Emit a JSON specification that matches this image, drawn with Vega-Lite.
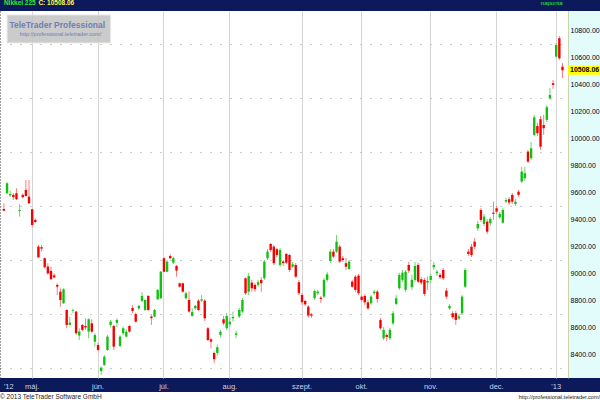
{
"$schema": "https://vega.github.io/schema/vega-lite/v6.json",
"padding": 0,
"background": "#0c1a5c",
"spacing": 2,
"config": {"view": {"stroke": null}, "font": "Liberation Sans", "axis": {"labelOverlap": false}, "axisY": {"labelOverlap": false}, "axisX": {"labelOverlap": false}},
"datasets": {"ohlc": [
{"date":"2012-04-17","open":9479,"high":9521,"low":9462,"close":9466},
{"date":"2012-04-18","open":9595,"high":9677,"low":9590,"close":9669},
{"date":"2012-04-19","open":9580,"high":9615,"low":9568,"close":9590},
{"date":"2012-04-20","open":9583,"high":9595,"low":9545,"close":9566},
{"date":"2012-04-23","open":9595,"high":9632,"low":9545,"close":9551},
{"date":"2012-04-24","open":9464,"high":9514,"low":9422,"close":9471},
{"date":"2012-04-25","open":9583,"high":9595,"low":9558,"close":9566},
{"date":"2012-04-26","open":9620,"high":9694,"low":9570,"close":9575},
{"date":"2012-04-27","open":9570,"high":9694,"low":9516,"close":9521},
{"date":"2012-05-01","open":9477,"high":9480,"low":9343,"close":9360},
{"date":"2012-05-02","open":9397,"high":9410,"low":9373,"close":9382},
{"date":"2012-05-07","open":9199,"high":9212,"low":9113,"close":9120},
{"date":"2012-05-08","open":9195,"high":9212,"low":9162,"close":9184},
{"date":"2012-05-09","open":9113,"high":9120,"low":9038,"close":9046},
{"date":"2012-05-10","open":9051,"high":9076,"low":8989,"close":9001},
{"date":"2012-05-11","open":9019,"high":9051,"low":8952,"close":8957},
{"date":"2012-05-14","open":8986,"high":9001,"low":8964,"close":8971},
{"date":"2012-05-15","open":8915,"high":8927,"low":8840,"close":8902},
{"date":"2012-05-16","open":8865,"high":8890,"low":8754,"close":8803},
{"date":"2012-05-17","open":8779,"high":8890,"low":8774,"close":8883},
{"date":"2012-05-18","open":8729,"high":8734,"low":8593,"close":8618},
{"date":"2012-05-21","open":8618,"high":8680,"low":8615,"close":8635},
{"date":"2012-05-22","open":8724,"high":8739,"low":8705,"close":8729},
{"date":"2012-05-23","open":8717,"high":8722,"low":8544,"close":8556},
{"date":"2012-05-24","open":8539,"high":8593,"low":8506,"close":8569},
{"date":"2012-05-25","open":8618,"high":8625,"low":8569,"close":8581},
{"date":"2012-05-28","open":8610,"high":8667,"low":8581,"close":8600},
{"date":"2012-05-29","open":8569,"high":8667,"low":8519,"close":8660},
{"date":"2012-05-30","open":8630,"high":8660,"low":8556,"close":8568},
{"date":"2012-05-31","open":8494,"high":8556,"low":8457,"close":8543},
{"date":"2012-06-01","open":8469,"high":8486,"low":8420,"close":8432},
{"date":"2012-06-04","open":8276,"high":8308,"low":8247,"close":8301},
{"date":"2012-06-05","open":8321,"high":8395,"low":8313,"close":8382},
{"date":"2012-06-06","open":8432,"high":8543,"low":8425,"close":8531},
{"date":"2012-06-07","open":8618,"high":8655,"low":8601,"close":8642},
{"date":"2012-06-08","open":8610,"high":8618,"low":8432,"close":8457},
{"date":"2012-06-11","open":8633,"high":8667,"low":8601,"close":8655},
{"date":"2012-06-12","open":8462,"high":8543,"low":8454,"close":8531},
{"date":"2012-06-13","open":8556,"high":8605,"low":8543,"close":8593},
{"date":"2012-06-14","open":8531,"high":8586,"low":8526,"close":8568},
{"date":"2012-06-15","open":8610,"high":8618,"low":8561,"close":8568},
{"date":"2012-06-18","open":8744,"high":8766,"low":8707,"close":8722},
{"date":"2012-06-19","open":8699,"high":8709,"low":8635,"close":8642},
{"date":"2012-06-20","open":8741,"high":8766,"low":8729,"close":8759},
{"date":"2012-06-21","open":8796,"high":8861,"low":8788,"close":8833},
{"date":"2012-06-22","open":8729,"high":8808,"low":8721,"close":8803},
{"date":"2012-06-25","open":8833,"high":8840,"low":8721,"close":8729},
{"date":"2012-06-26","open":8680,"high":8692,"low":8618,"close":8668},
{"date":"2012-06-27","open":8680,"high":8736,"low":8675,"close":8729},
{"date":"2012-06-28","open":8808,"high":8883,"low":8803,"close":8878},
{"date":"2012-06-29","open":8816,"high":9018,"low":8811,"close":9013},
{"date":"2012-07-02","open":9113,"high":9120,"low":9009,"close":9013},
{"date":"2012-07-03","open":9013,"high":9100,"low":9009,"close":9087},
{"date":"2012-07-04","open":9130,"high":9142,"low":9107,"close":9113},
{"date":"2012-07-05","open":9080,"high":9125,"low":9070,"close":9113},
{"date":"2012-07-06","open":9056,"high":9063,"low":8976,"close":9021},
{"date":"2012-07-09","open":8927,"high":8932,"low":8895,"close":8902},
{"date":"2012-07-10","open":8927,"high":8932,"low":8858,"close":8865},
{"date":"2012-07-11","open":8816,"high":8865,"low":8808,"close":8853},
{"date":"2012-07-12","open":8803,"high":8865,"low":8709,"close":8717},
{"date":"2012-07-13","open":8685,"high":8741,"low":8680,"close":8714},
{"date":"2012-07-17","open":8741,"high":8766,"low":8729,"close":8759},
{"date":"2012-07-18","open":8798,"high":8810,"low":8721,"close":8729},
{"date":"2012-07-19","open":8798,"high":8840,"low":8788,"close":8808},
{"date":"2012-07-20","open":8798,"high":8810,"low":8647,"close":8667},
{"date":"2012-07-23","open":8593,"high":8603,"low":8498,"close":8506},
{"date":"2012-07-24","open":8511,"high":8521,"low":8445,"close":8494},
{"date":"2012-07-25","open":8410,"high":8422,"low":8333,"close":8363},
{"date":"2012-07-26","open":8410,"high":8472,"low":8390,"close":8452},
{"date":"2012-07-27","open":8544,"high":8581,"low":8529,"close":8568},
{"date":"2012-07-30","open":8660,"high":8685,"low":8615,"close":8630},
{"date":"2012-07-31","open":8593,"high":8707,"low":8581,"close":8685},
{"date":"2012-08-01","open":8623,"high":8670,"low":8603,"close":8642},
{"date":"2012-08-02","open":8667,"high":8717,"low":8642,"close":8677},
{"date":"2012-08-03","open":8544,"high":8573,"low":8521,"close":8556},
{"date":"2012-08-06","open":8680,"high":8744,"low":8670,"close":8729},
{"date":"2012-08-07","open":8717,"high":8818,"low":8707,"close":8803},
{"date":"2012-08-08","open":8964,"high":8971,"low":8840,"close":8853},
{"date":"2012-08-09","open":8865,"high":9004,"low":8840,"close":8981},
{"date":"2012-08-10","open":8932,"high":8952,"low":8863,"close":8890},
{"date":"2012-08-13","open":8915,"high":8930,"low":8863,"close":8883},
{"date":"2012-08-14","open":8915,"high":8952,"low":8900,"close":8935},
{"date":"2012-08-15","open":8952,"high":8974,"low":8863,"close":8927},
{"date":"2012-08-16","open":8964,"high":9100,"low":8952,"close":9088},
{"date":"2012-08-17","open":9113,"high":9182,"low":9100,"close":9162},
{"date":"2012-08-20","open":9219,"high":9226,"low":9160,"close":9174},
{"date":"2012-08-21","open":9199,"high":9212,"low":9063,"close":9076},
{"date":"2012-08-22","open":9180,"high":9189,"low":9122,"close":9137},
{"date":"2012-08-23","open":9063,"high":9189,"low":9048,"close":9174},
{"date":"2012-08-24","open":9088,"high":9100,"low":9056,"close":9076},
{"date":"2012-08-27","open":9145,"high":9152,"low":9070,"close":9080},
{"date":"2012-08-28","open":9137,"high":9145,"low":9011,"close":9026},
{"date":"2012-08-29","open":9050,"high":9085,"low":9041,"close":9068},
{"date":"2012-08-30","open":9063,"high":9078,"low":8966,"close":8976},
{"date":"2012-08-31","open":8935,"high":8952,"low":8840,"close":8853},
{"date":"2012-09-03","open":8840,"high":8855,"low":8766,"close":8786},
{"date":"2012-09-04","open":8796,"high":8803,"low":8759,"close":8771},
{"date":"2012-09-05","open":8754,"high":8766,"low":8670,"close":8687},
{"date":"2012-09-06","open":8697,"high":8707,"low":8670,"close":8687},
{"date":"2012-09-07","open":8816,"high":8878,"low":8803,"close":8870},
{"date":"2012-09-10","open":8853,"high":8878,"low":8840,"close":8865},
{"date":"2012-09-11","open":8820,"high":8833,"low":8781,"close":8811},
{"date":"2012-09-12","open":8828,"high":8967,"low":8818,"close":8952},
{"date":"2012-09-13","open":8952,"high":9011,"low":8937,"close":8994},
{"date":"2012-09-14","open":9093,"high":9182,"low":9078,"close":9162},
{"date":"2012-09-18","open":9162,"high":9182,"low":9115,"close":9125},
{"date":"2012-09-19","open":9162,"high":9286,"low":9152,"close":9236},
{"date":"2012-09-20","open":9199,"high":9212,"low":9078,"close":9088},
{"date":"2012-09-21","open":9113,"high":9130,"low":9085,"close":9100},
{"date":"2012-09-24","open":9076,"high":9115,"low":9026,"close":9050},
{"date":"2012-09-25","open":9033,"high":9100,"low":9026,"close":9088},
{"date":"2012-09-26","open":8939,"high":8952,"low":8893,"close":8902},
{"date":"2012-09-27","open":8976,"high":8989,"low":8863,"close":8878},
{"date":"2012-09-28","open":8984,"high":8996,"low":8840,"close":8853},
{"date":"2012-10-01","open":8828,"high":8840,"low":8788,"close":8803},
{"date":"2012-10-02","open":8833,"high":8848,"low":8766,"close":8786},
{"date":"2012-10-03","open":8786,"high":8803,"low":8729,"close":8741},
{"date":"2012-10-04","open":8779,"high":8840,"low":8766,"close":8828},
{"date":"2012-10-05","open":8853,"high":8878,"low":8840,"close":8865},
{"date":"2012-10-09","open":8865,"high":8878,"low":8781,"close":8811},
{"date":"2012-10-10","open":8655,"high":8670,"low":8581,"close":8593},
{"date":"2012-10-11","open":8519,"high":8603,"low":8506,"close":8581},
{"date":"2012-10-12","open":8543,"high":8556,"low":8499,"close":8529},
{"date":"2012-10-15","open":8519,"high":8596,"low":8506,"close":8581},
{"date":"2012-10-16","open":8630,"high":8722,"low":8618,"close":8705},
{"date":"2012-10-17","open":8774,"high":8840,"low":8766,"close":8816},
{"date":"2012-10-18","open":8890,"high":9004,"low":8878,"close":8989},
{"date":"2012-10-19","open":8952,"high":9026,"low":8937,"close":9006},
{"date":"2012-10-22","open":8878,"high":9026,"low":8863,"close":9013},
{"date":"2012-10-23","open":9063,"high":9085,"low":9004,"close":9021},
{"date":"2012-10-24","open":8898,"high":8989,"low":8878,"close":8952},
{"date":"2012-10-25","open":8952,"high":9085,"low":8937,"close":9056},
{"date":"2012-10-26","open":9063,"high":9078,"low":8929,"close":8939},
{"date":"2012-10-29","open":8957,"high":8974,"low":8915,"close":8932},
{"date":"2012-10-30","open":8952,"high":8967,"low":8833,"close":8848},
{"date":"2012-10-31","open":8932,"high":8977,"low":8878,"close":8944},
{"date":"2012-11-01","open":8952,"high":8996,"low":8930,"close":8981},
{"date":"2012-11-02","open":9046,"high":9085,"low":9026,"close":9063},
{"date":"2012-11-05","open":9001,"high":9026,"low":8981,"close":9013},
{"date":"2012-11-06","open":8989,"high":9004,"low":8959,"close":8971},
{"date":"2012-11-07","open":9026,"high":9041,"low":8952,"close":8964},
{"date":"2012-11-08","open":8872,"high":8892,"low":8811,"close":8828},
{"date":"2012-11-09","open":8741,"high":8773,"low":8729,"close":8759},
{"date":"2012-11-12","open":8705,"high":8722,"low":8662,"close":8675},
{"date":"2012-11-13","open":8705,"high":8722,"low":8618,"close":8655},
{"date":"2012-11-14","open":8667,"high":8700,"low":8655,"close":8680},
{"date":"2012-11-15","open":8705,"high":8840,"low":8692,"close":8828},
{"date":"2012-11-16","open":8902,"high":9041,"low":8892,"close":9026},
{"date":"2012-11-19","open":9162,"high":9182,"low":9130,"close":9145},
{"date":"2012-11-20","open":9199,"high":9219,"low":9122,"close":9137},
{"date":"2012-11-21","open":9236,"high":9263,"low":9182,"close":9199},
{"date":"2012-11-22","open":9335,"high":9390,"low":9315,"close":9367},
{"date":"2012-11-26","open":9471,"high":9486,"low":9382,"close":9397},
{"date":"2012-11-27","open":9367,"high":9442,"low":9352,"close":9422},
{"date":"2012-11-28","open":9385,"high":9404,"low":9293,"close":9310},
{"date":"2012-11-29","open":9373,"high":9419,"low":9352,"close":9404},
{"date":"2012-11-30","open":9451,"high":9533,"low":9397,"close":9442},
{"date":"2012-12-03","open":9484,"high":9501,"low":9442,"close":9459},
{"date":"2012-12-04","open":9417,"high":9456,"low":9404,"close":9442},
{"date":"2012-12-05","open":9377,"high":9486,"low":9367,"close":9471},
{"date":"2012-12-06","open":9533,"high":9560,"low":9523,"close":9545},
{"date":"2012-12-07","open":9551,"high":9568,"low":9508,"close":9526},
{"date":"2012-12-10","open":9583,"high":9597,"low":9516,"close":9533},
{"date":"2012-12-11","open":9516,"high":9553,"low":9501,"close":9533},
{"date":"2012-12-12","open":9607,"high":9620,"low":9568,"close":9583},
{"date":"2012-12-13","open":9682,"high":9790,"low":9671,"close":9756},
{"date":"2012-12-14","open":9707,"high":9790,"low":9687,"close":9744},
{"date":"2012-12-17","open":9904,"high":9917,"low":9820,"close":9830},
{"date":"2012-12-18","open":9855,"high":9976,"low":9842,"close":9929},
{"date":"2012-12-19","open":10028,"high":10177,"low":10021,"close":10159},
{"date":"2012-12-20","open":10095,"high":10117,"low":10021,"close":10041},
{"date":"2012-12-21","open":10145,"high":10169,"low":9917,"close":9941},
{"date":"2012-12-25","open":10102,"high":10177,"low":10028,"close":10078},
{"date":"2012-12-26","open":10140,"high":10251,"low":10125,"close":10234},
{"date":"2012-12-27","open":10300,"high":10377,"low":10288,"close":10325},
{"date":"2012-12-28","open":10412,"high":10436,"low":10370,"close":10399},
{"date":"2013-01-04","open":10609,"high":10711,"low":10600,"close":10696},
{"date":"2013-01-07","open":10746,"high":10763,"low":10585,"close":10597},
{"date":"2013-01-08","open":10535,"high":10562,"low":10451,"close":10508.06}
]},
"vconcat": [
{"hconcat": [
  {
  "width": 568, "height": 367,
  "view": {"fill": "#ffffff", "stroke": null},
  "data": {"name": "ohlc"},
  "layer": [
    {"mark": {"type": "rule", "strokeWidth": 1},
     "encoding": {
       "x": {"field": "date", "type": "ordinal",
             "scale": {"type": "band", "paddingInner": 0, "paddingOuter": 1.47, "align": 0.373},
             "axis": {"title": null, "values": ["2012-04-17","2012-05-01","2012-06-01","2012-07-02","2012-08-01","2012-09-03","2012-10-01","2012-11-01","2012-12-03","2013-01-04"],
                      "labelExpr": "({'2012-04-17': \"'12\", '2012-05-01': 'máj.', '2012-06-01': 'jún.', '2012-07-02': 'júl.', '2012-08-01': 'aug.', '2012-09-03': 'szept.', '2012-10-01': 'okt.', '2012-11-01': 'nov.', '2012-12-03': 'dec.', '2013-01-04': \"'13\"})[datum.value]",
                      "labelAngle": 0, "bandPosition": 0.5, "grid": true, "gridColor": "#d4d4d4", "gridWidth": 1,
                      "gridOpacity": {"condition": {"test": "datum.value === '2012-04-17'", "value": 0}, "value": 1},
                      "labelAlign": {"condition": {"test": "datum.value === '2012-04-17'", "value": "left"}, "value": "center"},
                      "ticks": false, "tickSize": 0, "domain": false, "labelPadding": 4, "labelFontSize": 7.5,
                      "labelColor": "#c8d0e8", "labelOverlap": false}},
       "y": {"field": "low", "type": "quantitative",
             "scale": {"domain": [8224, 10948], "nice": false, "zero": false},
             "axis": {"orient": "left", "title": null, "labels": false, "ticks": false, "tickSize": 0,
                      "domain": true, "domainColor": "#404040", "domainDash": [1, 2], "domainWidth": 1, "grid": true,
                      "values": [8300, 8400, 8500, 8600, 8700, 8800, 8900, 9000, 9100, 9200, 9300, 9400, 9500, 9600, 9700, 9800, 9900, 10000, 10100, 10200, 10300, 10400, 10500, 10600, 10700, 10800, 10900],
                      "gridColor": {"condition": {"test": "datum.value % 600 === 0", "value": "#d4d4d4"}, "value": "#9a9a9a"},
                      "gridDash": {"condition": {"test": "datum.value % 600 === 0", "value": []}, "value": [1, 9]}}},
       "y2": {"field": "high"},
       "color": {"condition": {"test": "datum.close >= datum.open", "value": "#6cd46c"}, "value": "#ff7a7a"}
     }},
    {"mark": {"type": "bar", "width": 2.4},
     "encoding": {
       "x": {"field": "date", "type": "ordinal"},
       "y": {"field": "open", "type": "quantitative", "scale": {"domain": [8224, 10948], "nice": false, "zero": false}},
       "y2": {"field": "close"},
       "color": {"condition": {"test": "datum.close >= datum.open", "value": "#12c012"}, "value": "#f40000"}
     }},
    {"data": {"values": [{"box": "watermark"}]},
     "mark": {"type": "rect", "fill": "#c3c3c3", "opacity": 0.85, "stroke": "#e6e6e6", "strokeWidth": 1},
     "encoding": {
       "x": {"datum": "2012-04-18", "type": "ordinal"},
       "x2": {"datum": "2012-06-07"},
       "y": {"datum": 10919, "type": "quantitative", "scale": {"domain": [8224, 10948], "nice": false, "zero": false}},
       "y2": {"datum": 10711}
     }},
    {"data": {"values": [{"t": "TeleTrader Professional"}]},
     "mark": {"type": "text", "align": "center", "baseline": "middle", "fontSize": 8.5, "fontWeight": "bold", "color": "#6f80b4"},
     "encoding": {
       "x": {"datum": "2012-05-15", "type": "ordinal"},
       "y": {"datum": 10845, "type": "quantitative", "scale": {"domain": [8224, 10948], "nice": false, "zero": false}},
       "text": {"field": "t"}
     }},
    {"data": {"values": [{"t": "http://professional.teletrader.com/"}]},
     "mark": {"type": "text", "align": "right", "baseline": "middle", "fontSize": 5.5, "color": "#6f80b4"},
     "encoding": {
       "x": {"datum": "2012-06-04", "type": "ordinal"},
       "y": {"datum": 10774, "type": "quantitative", "scale": {"domain": [8224, 10948], "nice": false, "zero": false}},
       "text": {"field": "t"}
     }},
    {"data": {"values": [{"t": "Nikkei 225"}]},
     "mark": {"type": "text", "align": "left", "baseline": "top", "fontSize": 6.5, "fontWeight": "bold", "color": "#2cf02c"},
     "encoding": {
       "x": {"datum": "2012-04-17", "type": "ordinal"},
       "y": {"datum": 11029, "type": "quantitative", "scale": {"domain": [8224, 10948], "nice": false, "zero": false}},
       "text": {"field": "t"}
     }},
    {"data": {"values": [{"t": "C: 10508.06"}]},
     "mark": {"type": "text", "align": "left", "baseline": "top", "fontSize": 6.5, "fontWeight": "bold", "color": "#ffff3c"},
     "encoding": {
       "x": {"datum": "2012-05-07", "type": "ordinal"},
       "y": {"datum": 11029, "type": "quantitative", "scale": {"domain": [8224, 10948], "nice": false, "zero": false}},
       "text": {"field": "t"}
     }},
    {"data": {"values": [{"t": "naponta"}]},
     "mark": {"type": "text", "align": "right", "baseline": "top", "fontSize": 6, "color": "#2cf02c"},
     "encoding": {
       "x": {"datum": "2013-01-08", "type": "ordinal"},
       "y": {"datum": 11029, "type": "quantitative", "scale": {"domain": [8224, 10948], "nice": false, "zero": false}},
       "text": {"field": "t"}
     }}
  ]
  },
  {
  "width": 32, "height": 367,
  "view": {"fill": "#e2fcfc", "stroke": null},
  "data": {"name": "ohlc"},
  "transform": [{"filter": "datum.date === '2013-01-08'"}],
  "layer": [
    {"mark": {"type": "tick", "orient": "horizontal", "thickness": 9, "size": 32, "color": "#ffff00", "opacity": 1},
     "encoding": {
       "y": {"field": "close", "type": "quantitative",
             "scale": {"domain": [8224, 10948], "nice": false, "zero": false},
             "axis": {"orient": "left", "title": null, "values": [8400, 8600, 8800, 9000, 9200, 9400, 9600, 9800, 10000, 10200, 10400, 10600, 10800],
                      "format": ".2f", "labelAlign": "left", "labelBaseline": "middle", "labelPadding": -2, "ticks": false, "tickSize": 0,
                      "grid": false, "domain": true, "domainColor": "#b4ac5c", "domainDash": [1, 1], "domainWidth": 1,
                      "labelFontSize": 7, "labelColor": "#000020", "labelFlush": false, "labelOverlap": false}}
     }},
    {"mark": {"type": "text", "align": "left", "dx": -14, "baseline": "middle", "fontSize": 7, "fontWeight": "bold", "color": "#000000"},
     "encoding": {
       "y": {"field": "close", "type": "quantitative", "scale": {"domain": [8224, 10948], "nice": false, "zero": false},
             "axis": {"orient": "left", "title": null, "values": [8400, 8600, 8800, 9000, 9200, 9400, 9600, 9800, 10000, 10200, 10400, 10600, 10800],
                      "format": ".2f", "labelAlign": "left", "labelBaseline": "middle", "labelPadding": -2, "ticks": false, "tickSize": 0,
                      "grid": false, "domain": true, "domainColor": "#b4ac5c", "domainDash": [1, 1], "domainWidth": 1,
                      "labelFontSize": 7, "labelColor": "#000020", "labelFlush": false, "labelOverlap": false}},
       "text": {"field": "close", "type": "quantitative", "format": ".2f"}
     }}
  ]
  }
], "spacing": 0, "bounds": "flush", "resolve": {"scale": {"y": "independent", "x": "independent"}}},
{
  "width": 600, "height": 9,
  "view": {"fill": "#ffffff", "stroke": null},
  "data": {"values": [{"t": "© 2013 TeleTrader Software GmbH"}, {"t": "http://professional.teletrader.com/"}]},
  "layer": [
    {"transform": [{"filter": {"field": "t", "equal": "© 2013 TeleTrader Software GmbH"}}],
     "mark": {"type": "text", "align": "left", "baseline": "middle", "fontSize": 6.5, "color": "#222222"},
     "encoding": {
       "x": {"field": "t", "type": "nominal", "scale": {"type": "point", "padding": 0, "domain": ["© 2013 TeleTrader Software GmbH", "http://professional.teletrader.com/"]}, "axis": null},
       "text": {"field": "t"}
     }},
    {"transform": [{"filter": {"field": "t", "equal": "http://professional.teletrader.com/"}}],
     "mark": {"type": "text", "align": "right", "baseline": "middle", "fontSize": 5.5, "color": "#222222"},
     "encoding": {
       "x": {"field": "t", "type": "nominal"},
       "text": {"field": "t"}
     }}
  ]
}
],
"resolve": {"scale": {"x": "independent", "y": "independent"}}
}
